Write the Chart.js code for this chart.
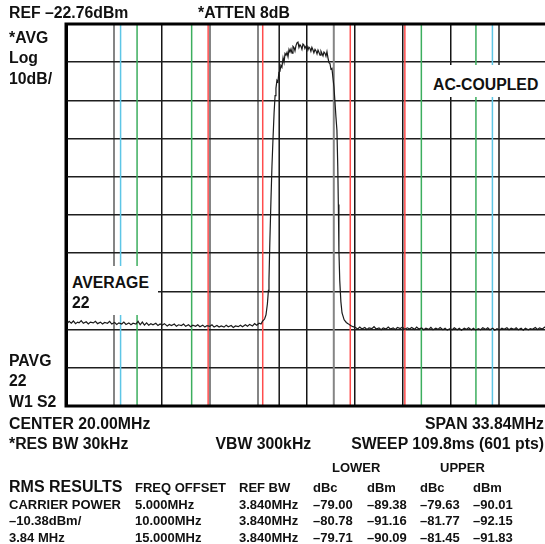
<!DOCTYPE html>
<html>
<head>
<meta charset="utf-8">
<script src="https://cdn.jsdelivr.net/npm/chart.js@4.4.1/dist/chart.umd.min.js"></script>
<style>
  html, body { margin: 0; padding: 0; background: #fff; overflow: hidden; }
  #wrap { position: relative; width: 545px; height: 544px; overflow: hidden;
          font-family: "Liberation Sans", Arial, Helvetica, sans-serif; font-weight: bold; color: #111; }
  #wrap canvas { position: absolute; left: 0; top: 0; }
  .t { position: absolute; white-space: nowrap; line-height: 1; }
  .big { font-size: 15.8px; }
  .sm { font-size: 13px; }
  .box { position: absolute; background: #fff; }
</style>
</head>
<body>
<div id="wrap">
  <canvas id="myChart" width="548" height="544"></canvas>
  <div class="box" style="left:428px;top:65px;width:117px;height:32px"></div>
  <div class="box" style="left:68px;top:266px;width:90px;height:49px"></div>

  <div class="t big" style="left:9px;top:5px">REF –22.76dBm</div>
  <div class="t big" style="left:198px;top:5px">*ATTEN 8dB</div>
  <div class="t big" style="left:9px;top:30px">*AVG</div>
  <div class="t big" style="left:9px;top:49.5px">Log</div>
  <div class="t big" style="left:9px;top:71px">10dB/</div>
  <div class="t big" style="left:433px;top:77px">AC-COUPLED</div>
  <div class="t big" style="left:72px;top:274.6px">AVERAGE</div>
  <div class="t big" style="left:72px;top:295px">22</div>
  <div class="t big" style="left:9px;top:353.4px">PAVG</div>
  <div class="t big" style="left:9px;top:373px">22</div>
  <div class="t big" style="left:9px;top:393.6px">W1 S2</div>

  <div class="t big" style="left:9px;top:416px">CENTER 20.00MHz</div>
  <div class="t big" style="right:1px;top:416px">SPAN 33.84MHz</div>
  <div class="t big" style="left:9px;top:435.7px">*RES BW 30kHz</div>
  <div class="t big" style="left:215.5px;top:435.7px">VBW 300kHz</div>
  <div class="t big" style="right:1px;top:435.7px">SWEEP 109.8ms (601 pts)</div>

  <div class="t sm" style="left:332px;top:461px">LOWER</div>
  <div class="t sm" style="left:440px;top:461px">UPPER</div>
  <div class="t" style="font-size:16px;left:9px;top:478.6px">RMS RESULTS</div>
  <div class="t sm" style="left:135px;top:480.5px">FREQ OFFSET</div>
  <div class="t sm" style="left:239px;top:480.5px">REF BW</div>
  <div class="t sm" style="left:313px;top:480.5px">dBc</div>
  <div class="t sm" style="left:367px;top:480.5px">dBm</div>
  <div class="t sm" style="left:420px;top:480.5px">dBc</div>
  <div class="t sm" style="left:473px;top:480.5px">dBm</div>
  <div id="rows"></div>
</div>
<script>
// analyzer settings
const refLevel = -22.76;
const bottomLevel = -122.76;
const startFreq = 3.08;
const stopFreq = 36.92;

// graticule (10 x 10 divisions)
const xGrid = [3.08, 6.464, 9.848, 13.232, 16.616, 20.0, 23.384, 26.768, 30.152, 33.536, 36.92];
const yGrid = [-122.76, -112.76, -102.76, -92.76, -82.76, -72.76, -62.76, -52.76, -42.76, -32.76, -22.76];
const xGridColors = ["#000", "#858585", "#151515", "#858585", "#858585", "#151515", "#151515", "#151515", "#151515", "#555", "#aaa"];
const xGridWidths = [3, 2, 1.5, 2, 2, 1.5, 1.5, 1.5, 1.5, 2, 1.5];

// integration channel edges (MHz)
const carrierEdges = [18.08, 21.92];
const redEdges = [13.08, 16.92, 23.08, 26.92];
const greenEdges = [8.08, 11.92, 28.08, 31.92];
const cyanEdges = [6.92, 33.08];

// results table
const rowLabels = ["CARRIER POWER", "–10.38dBm/", "3.84 MHz"];
const freqOffsets = ["5.000MHz", "10.000MHz", "15.000MHz"];
const refBw = ["3.840MHz", "3.840MHz", "3.840MHz"];
const lowerDbc = ["–79.00", "–80.78", "–79.71"];
const lowerDbm = ["–89.38", "–91.16", "–90.09"];
const upperDbc = ["–79.63", "–81.77", "–81.45"];
const upperDbm = ["–90.01", "–92.15", "–91.83"];

// trace [MHz, dBm]
const trace = [
  [3.08,-100.5],[3.2,-101.0],[3.3,-100.6],[3.45,-101.1],[3.6,-100.5],[3.75,-101.2],[3.9,-100.8],[4.0,-101.0],
  [4.15,-100.4],[4.3,-101.1],[4.5,-100.7],[4.65,-101.3],[4.8,-100.8],[5.0,-101.0],[5.15,-100.6],[5.3,-101.2],
  [5.5,-100.8],[5.65,-101.3],[5.8,-100.9],[6.0,-101.1],[6.15,-100.6],[6.3,-101.3],[6.5,-100.9],[6.65,-101.4],
  [6.8,-101.0],[7.0,-101.3],[7.15,-100.8],[7.3,-101.4],[7.5,-101.0],[7.65,-101.5],[7.8,-101.1],[8.0,-101.3],
  [8.15,-100.6],[8.3,-101.5],[8.45,-100.8],[8.6,-101.6],[8.75,-101.0],[8.9,-101.6],[9.05,-101.2],[9.2,-101.5],
  [9.4,-101.1],[9.55,-101.7],[9.7,-101.3],[9.85,-101.6],[10.0,-101.2],[10.2,-101.8],[10.35,-101.4],[10.5,-101.7],
  [10.7,-101.3],[10.85,-101.9],[11.0,-101.5],[11.2,-101.7],[11.35,-101.3],[11.5,-101.9],[11.7,-101.5],[11.85,-102.0],
  [12.0,-101.6],[12.2,-101.9],[12.35,-101.5],[12.5,-102.0],[12.7,-101.6],[12.85,-102.1],[13.0,-101.7],[13.2,-101.9],
  [13.35,-101.5],[13.5,-102.1],[13.7,-101.7],[13.85,-102.1],[14.0,-101.8],[14.2,-102.1],[14.35,-101.6],[14.5,-102.0],
  [14.7,-101.7],[14.85,-102.2],[15.0,-101.8],[15.2,-102.0],[15.35,-101.6],[15.5,-102.0],[15.7,-101.5],[15.85,-101.9],
  [16.0,-101.4],[16.2,-101.8],[16.35,-101.2],[16.5,-101.6],
  [16.66,-101.1],[16.8,-101.3],[16.9,-100.6],[17.05,-100.0],[17.15,-98.9],[17.25,-96.0],[17.32,-92.5],[17.36,-89.8],
  [17.42,-80.0],[17.5,-68.8],[17.57,-60.0],[17.64,-53.1],[17.72,-46.0],[17.79,-41.5],[17.85,-39.6],
  [17.92,-37.5],[17.99,-37.9],[18.06,-35.4],[18.13,-35.2],[18.2,-33.6],[18.27,-34.1],[18.35,-31.6],
  [18.42,-32.8],[18.49,-30.5],[18.56,-30.9],[18.63,-30.2],[18.7,-31.3],[18.77,-29.4],[18.84,-30.1],
  [18.91,-29.3],[18.98,-30.4],[19.05,-28.6],[19.12,-28.9],[19.19,-29.8],[19.26,-28.4],[19.33,-27.7],
  [19.4,-27.5],[19.47,-28.9],[19.54,-28.2],[19.61,-28.6],[19.68,-29.4],[19.75,-28.0],[19.82,-28.3],
  [19.89,-29.2],[19.96,-28.6],[20.03,-28.5],[20.1,-29.6],[20.17,-28.8],[20.24,-29.1],[20.31,-29.9],
  [20.38,-28.9],[20.45,-29.5],[20.52,-30.3],[20.6,-29.4],[20.67,-29.8],[20.74,-30.6],[20.81,-29.6],
  [20.88,-30.2],[20.95,-30.9],[21.02,-29.9],[21.09,-30.5],[21.16,-31.1],[21.23,-30.1],[21.3,-30.4],
  [21.37,-31.2],[21.44,-30.0],[21.51,-31.6],[21.58,-32.9],[21.65,-33.1],[21.72,-34.6],[21.79,-34.4],
  [21.86,-36.8],[21.93,-39.2],[22.0,-43.0],[22.07,-47.0],[22.14,-50.5],[22.2,-60.0],[22.24,-70.0],
  [22.28,-82.0],[22.34,-90.0],[22.42,-95.5],[22.5,-98.4],[22.65,-100.2],[22.8,-100.9],[22.92,-101.2],
  [23.1,-101.7],[23.27,-102.0],
  [23.45,-102.2],[23.6,-102.6],[23.75,-102.1],[23.9,-102.6],[24.1,-102.2],[24.25,-102.7],[24.4,-102.3],[24.6,-102.5],
  [24.75,-102.0],[24.9,-102.6],[25.1,-102.3],[25.25,-102.8],[25.4,-102.3],[25.6,-102.6],[25.75,-102.1],[25.9,-102.6],
  [26.1,-102.3],[26.25,-102.7],[26.4,-102.2],[26.6,-102.5],[26.75,-102.1],[26.9,-102.7],[27.1,-102.3],[27.25,-102.6],
  [27.4,-102.2],[27.6,-102.7],[27.75,-102.1],[27.9,-102.6],[28.1,-102.3],[28.25,-102.8],[28.4,-102.4],[28.6,-102.7],
  [28.75,-102.2],[28.9,-102.8],[29.1,-102.4],[29.25,-102.7],[29.4,-102.2],[29.6,-102.8],[29.75,-102.4],[29.9,-102.9],
  [30.1,-102.5],[30.25,-102.8],[30.4,-102.3],[30.6,-102.8],[30.75,-102.4],[30.9,-102.9],[31.1,-102.4],[31.25,-102.7],
  [31.4,-102.3],[31.6,-102.8],[31.75,-102.4],[31.9,-102.9],[32.1,-102.5],[32.25,-102.8],[32.4,-102.3],[32.6,-102.7],
  [32.75,-102.3],[32.9,-102.8],[33.1,-102.4],[33.25,-102.9],[33.4,-102.5],[33.6,-102.8],[33.75,-102.4],[33.9,-102.7],
  [34.1,-102.3],[34.25,-102.8],[34.4,-102.4],[34.6,-102.7],[34.75,-102.3],[34.9,-102.8],[35.1,-102.4],[35.25,-102.9],
  [35.4,-102.4],[35.6,-102.8],[35.75,-102.5],[35.9,-102.7],[36.1,-102.2],[36.25,-102.7],[36.4,-102.3],[36.6,-102.6],
  [36.75,-102.1],[36.92,-102.3]
];

// table rows as text
let rowsDiv = document.getElementById("rows");
const colX = [9, 135, 239, 313, 367, 420, 473];
const rowTop = [497.7, 514.4, 530.7];
rowLabels.forEach((lab, i) => {
  let cells = [lab, freqOffsets[i], refBw[i], lowerDbc[i], lowerDbm[i], upperDbc[i], upperDbm[i]];
  cells.forEach((txt, j) => {
    let d = document.createElement("div");
    d.className = "t sm";
    d.style.left = colX[j] + "px";
    d.style.top = rowTop[i] + "px";
    d.textContent = txt;
    rowsDiv.appendChild(d);
  });
});

const edgeLines = {
  id: "edgeLines",
  beforeDatasetsDraw(chart) {
    const { ctx, chartArea: a, scales: { x } } = chart;
    const draw = (f, color, w) => {
      const px = x.getPixelForValue(f);
      ctx.strokeStyle = color;
      ctx.lineWidth = w;
      ctx.beginPath();
      ctx.moveTo(px, a.top);
      ctx.lineTo(px, a.bottom);
      ctx.stroke();
    };
    ctx.save();
    draw(carrierEdges[0], "#151515", 1.5);
    draw(carrierEdges[1], "#858585", 2);
    redEdges.forEach(f => draw(f, "#ff4d4d", 1.5));
    greenEdges.forEach(f => draw(f, "#3cae5e", 1.5));
    cyanEdges.forEach(f => draw(f, "#5ec6e6", 1.5));
    ctx.restore();
  },
  afterDraw(chart) {
    const { ctx, chartArea: a } = chart;
    ctx.save();
    ctx.strokeStyle = "#000";
    ctx.lineWidth = 3;
    ctx.beginPath();
    ctx.moveTo(a.right + 2, a.top);
    ctx.lineTo(a.left, a.top);
    ctx.lineTo(a.left, a.bottom);
    ctx.lineTo(a.right + 2, a.bottom);
    ctx.stroke();
    ctx.restore();
  }
};

const ctx = document.getElementById("myChart");
new Chart(ctx, {
  type: "line",
  data: {
    datasets: [{
      data: trace.map(p => ({ x: p[0], y: p[1] })),
      borderColor: "#1a1a1a",
      borderWidth: 1.2,
      pointRadius: 0,
      tension: 0,
    }],
  },
  options: {
    responsive: false,
    animation: false,
    events: [],
    layout: { padding: { left: 66, top: 24, right: 1, bottom: 138 } },
    scales: {
      x: {
        type: "linear",
        min: startFreq,
        max: stopFreq,
        afterBuildTicks: s => { s.ticks = xGrid.map(v => ({ value: v })); },
        ticks: { display: false },
        border: { display: false },
        grid: {
          drawTicks: false,
          color: c => xGridColors[c.index],
          lineWidth: c => xGridWidths[c.index],
        },
      },
      y: {
        min: bottomLevel,
        max: refLevel,
        afterBuildTicks: s => { s.ticks = yGrid.map(v => ({ value: v })); },
        ticks: { display: false },
        border: { display: false },
        grid: {
          drawTicks: false,
          color: "#1e1e1e",
          lineWidth: 1.5,
        },
      },
    },
    plugins: {
      legend: { display: false },
      tooltip: { enabled: false },
    },
  },
  plugins: [edgeLines],
});
</script>
</body>
</html>
